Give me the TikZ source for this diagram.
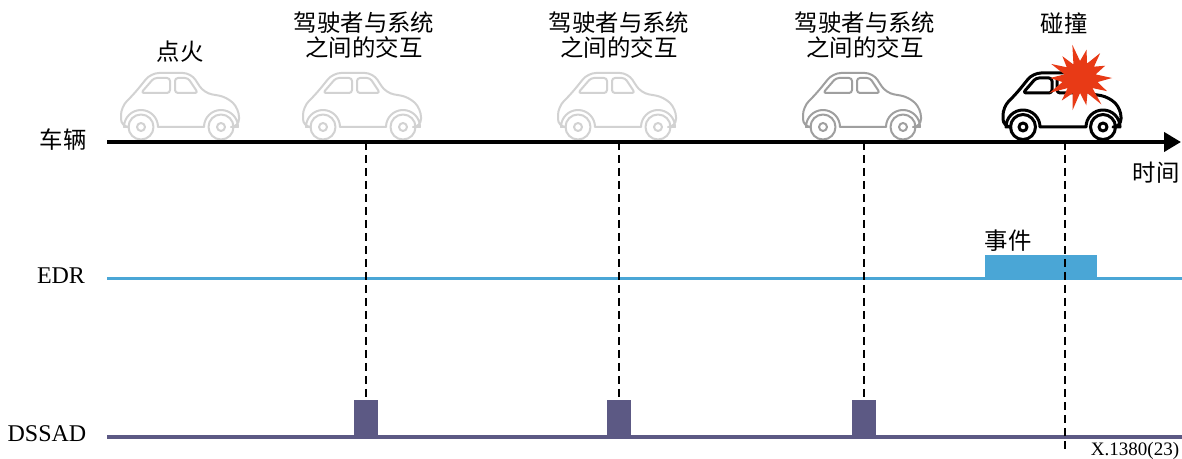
\documentclass[tikz,border=0pt]{standalone}
\usepackage{fontspec}
\setmainfont{Liberation Serif}
\newfontfamily\cjk{Noto Sans CJK SC}
\usetikzlibrary{arrows.meta}
\definecolor{edrblue}{RGB}{74,166,214}
\definecolor{dssadpurple}{RGB}{92,89,132}
\definecolor{boomred}{RGB}{232,58,22}
\tikzset{
  carpic/.pic={
    \draw (0,-13) -- (-23,-13) arc[start angle=0,end angle=-180,radius=17]
      [rounded corners=4pt] -- (-60,-13) -- (-60,-33) -- (-47,-46) -- (-30,-67)
      -- (10,-67) -- (23,-47) -- (46,-43) -- (58,-31) -- (58,-13) [sharp corners] -- (57,-13)
      arc[start angle=0,end angle=-180,radius=17] -- cycle;
    \draw[rounded corners=1.5pt] (-27,-62) -- (-40,-47) -- (-11,-47) -- (-11,-62) -- cycle;
    \draw[rounded corners=1.5pt] (-6,-62) -- (7,-62) -- (17,-47) -- (-6,-47) -- cycle;
    \foreach \w in {-40,40}{
      \draw (\w,-13) circle[radius=12.5];
      \draw (\w,-13) circle[radius=4];
    }
  },
  lbl/.style={font=\cjk\fontsize{11.7}{12.5}\selectfont,align=center,inner sep=0pt},
  lat/.style={font=\fontsize{12}{14}\selectfont,inner sep=0pt},
  pulse/.style={fill=dssadpurple,minimum width=12pt,minimum height=18.5pt,inner sep=0pt}
}

\begin{document}
\begin{tikzpicture}[x=0.5pt,y=-0.5pt,line join=round]
\useasboundingbox (0,0) rectangle (1182,459);
\fill[white] (0,0) rectangle (1182,459);

% cars along the time line
\pic[draw=gray!35,line width=1pt] at (181,140) {carpic};
\pic[draw=gray!35,line width=1pt] at (363,140) {carpic};
\pic[draw=gray!35,line width=1pt] at (618,140) {carpic};
\pic[draw=gray!75,line width=1pt] at (863,140) {carpic};
\pic[draw=black,line width=1.5pt] at (1063,140) {carpic};
\fill[boomred,shift={(1080,78)}] (0:32)
  \foreach \a/\r in {13/18,26/30,39/16,51/34,64/17,77/28,90/15,103/33,116/17,129/29,141/16,
    154/34,167/18,180/30,193/16,206/32,219/17,231/28,244/15,257/34,270/17,283/29,296/16,
    309/32,321/18,334/28,347/16}{ -- (\a:\r) } -- cycle;

\node[lbl] (ign) at (180,52) {点火};
\node[lbl] (hmi1) at (364,35) {驾驶者与系统\\之间的交互};
\node[lbl] (hmi2) at (619,35) {驾驶者与系统\\之间的交互};
\node[lbl] (hmi3) at (865,35) {驾驶者与系统\\之间的交互};
\node[lbl] (crash) at (1064,23) {碰撞};

% rows
\node[lbl] (veh) at (63,140) {车辆};
\node[lbl] (time) at (1156,173) {时间};
\node[lat] (edr) at (61,276) {EDR};
\node[lat] (dssad) at (47,434) {DSSAD};

\coordinate (axL) at (107,142);
\coordinate (axR) at (1181,142);
\coordinate (edrL) at (107,279);
\coordinate (edrR) at (1182,279);
\coordinate (dsL) at (107,437);
\coordinate (dsR) at (1182,437);

\draw[edrblue,line width=1.5pt] (edrL) -- (edrR);
\node[fill=edrblue,minimum width=56pt,minimum height=12pt,inner sep=0pt] (ev) at (1041,267) {};
\node[lbl] (evl) at (1008,241) {事件};
\draw[dssadpurple,line width=2pt] (dsL) -- (dsR);

\foreach \x [count=\i] in {366,619,864}{
  \coordinate (t\i) at (\x,142);
  \node[pulse] (p\i) at (\x,418.5) {};
  \draw[dashed,line width=0.75pt,dash pattern=on 4pt off 2.5pt] (t\i) -- (p\i.north);
}
\coordinate (tc) at (1065,142);
\coordinate (tcEnd) at (1065,452);
\draw[line width=0.75pt,dash pattern=on 4pt off 2.5pt] (tc) -- (tcEnd);

\draw[line width=2pt,-{Triangle[length=8.5pt,width=9.5pt]}] (axL) -- (axR);

\node[font=\fontsize{9.5}{11}\selectfont,inner sep=0pt] (fig) at (1135,451) {X.1380(23)};
\end{tikzpicture}
\end{document}
